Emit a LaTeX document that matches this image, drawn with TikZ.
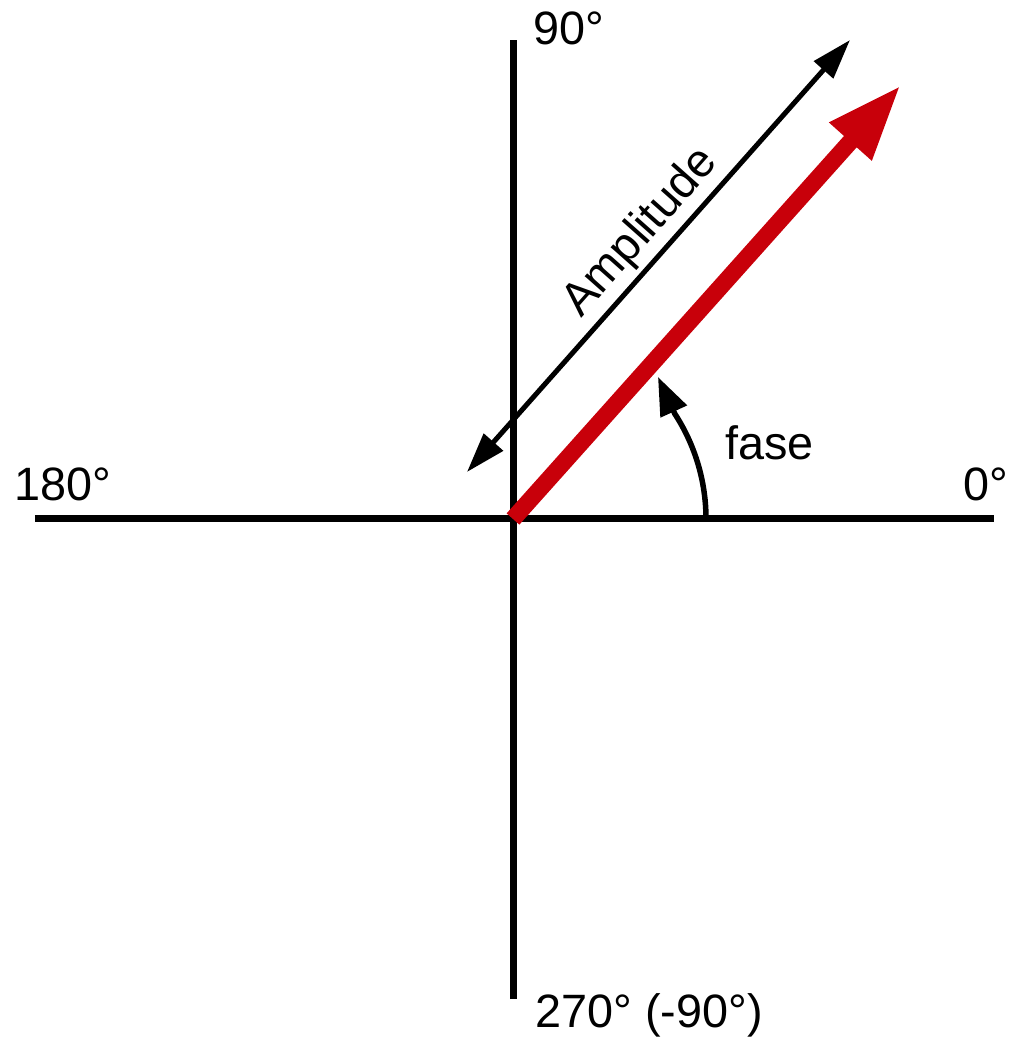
\documentclass[tikz,border=0pt]{standalone}
\usepackage{fontspec}
\setmainfont{Liberation Sans}
\usetikzlibrary{arrows.meta,bending}
\definecolor{phasorred}{RGB}{200,0,10}

\begin{document}
\begin{tikzpicture}[
    x=0.5pt, y=0.5pt,
    every node/.style={font=\fontsize{23.4}{28}\selectfont, inner sep=0pt},
    axis/.style={line width=3.5pt},
    amp/.style={line width=2.5pt,
      {Triangle[length=20pt,width=12.5pt]}-{Triangle[length=20pt,width=12.5pt]}},
    phasor/.style={line width=8.5pt, phasorred, -{Triangle[length=38pt,width=26pt]}},
    phase/.style={line width=2.75pt, -{Triangle[length=19pt,width=14pt]}}
  ]
  \useasboundingbox (-513,-518) rectangle (511,519);
  % axes
  \coordinate (O) at (0,0);
  \coordinate (east) at (481,0);
  \coordinate (west) at (-478,0);
  \coordinate (north) at (0,479);
  \coordinate (south) at (0,-480);
  \draw[axis] (west) -- (east);
  \draw[axis] (south) -- (north);
  \node[anchor=base west] (deg90) at (20,474) {90°};
  \node[anchor=base west] (deg180) at (-499,18) {180°};
  \node[anchor=base east] (deg0) at (496,18) {0°};
  \node[anchor=base west] (deg270) at (22,-508) {270° (-90°)};
  % amplitude
  \coordinate (ampA) at (-46,47);
  \coordinate (ampB) at (337,479);
  \draw[amp] (ampA) -- node[sloped, above=2pt, pos=0.51] (amplabel) {Amplitude} (ampB);
  % phasor and phase
  \coordinate (tip) at (388,434);
  \draw[phasor] (O) -- (tip);
  \coordinate (arcstart) at (193,0);
  \coordinate (phasetip) at (145,142);
  \draw[phase] (arcstart) arc[start angle=0, end angle=33, radius=193] -- (phasetip);
  \node[anchor=base west] (fase) at (212,59) {fase};
\end{tikzpicture}
\end{document}
